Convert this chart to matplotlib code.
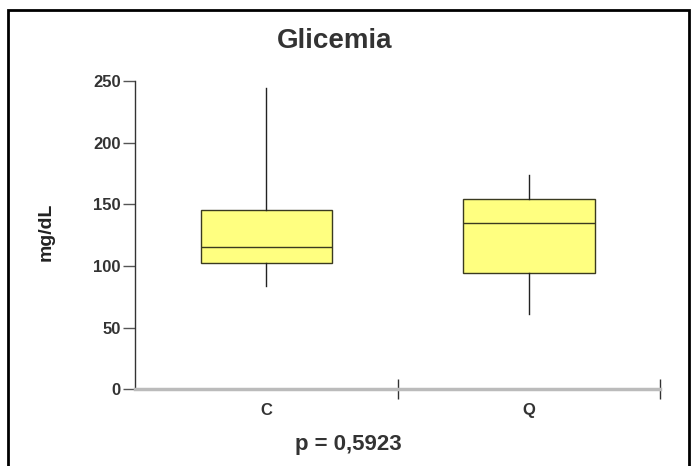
import numpy as np
import matplotlib.pyplot as plt
from matplotlib.patches import Rectangle

plt.rcParams['font.family'] = ['Liberation Sans', 'DejaVu Sans']

# Estatisticas (mg/dL)
grupos = ['C', 'Q']
whislo = [84, 61]
q1 = [102, 94]
mediana = [115, 135]
q3 = [145, 154]
whishi = [244, 174]
p_valor = 'p = 0,5923'

stats = []
for i in range(len(grupos)):
    stats.append({'label': grupos[i], 'whislo': whislo[i], 'q1': q1[i],
                  'med': mediana[i], 'q3': q3[i], 'whishi': whishi[i]})

fig = plt.figure(figsize=(6.95, 4.66), dpi=100)
ax = fig.add_axes([0.194, 0.165, 0.756, 0.661])

pos = np.arange(len(grupos)) + 0.5
ax.bxp(stats, positions=pos, widths=0.5, showcaps=False, showfliers=False,
       patch_artist=True,
       boxprops=dict(facecolor='#ffff80', edgecolor='#3a3a20', linewidth=1.0),
       medianprops=dict(color='#3a3a20', linewidth=1.0),
       whiskerprops=dict(color='#222222', linewidth=1.0),
       manage_ticks=False)

ax.set_xlim(0, 2)
ax.set_ylim(0, 250)
ax.set_yticks([0, 50, 100, 150, 200, 250])
ax.set_yticklabels(['0', '50', '100', '150', '200', '250'],
                   fontweight='bold', fontsize=12, color='#333333')

ax.set_xticks([1, 2])
ax.set_xticklabels(['', ''])
ax.set_xticks(pos, minor=True)
ax.set_xticklabels(grupos, minor=True, fontweight='bold', fontsize=12, color='#333333')
ax.tick_params(axis='x', which='major', direction='inout', length=14, width=1, color='#333333')
ax.tick_params(axis='x', which='minor', length=0, pad=10)
ax.tick_params(axis='y', direction='out', length=9, width=1, color='#555555', pad=1)

for s in ['top', 'right']:
    ax.spines[s].set_visible(False)
ax.spines['left'].set_color('#333333')
ax.spines['left'].set_linewidth(1.0)
ax.spines['bottom'].set_color('#bbbbbb')
ax.spines['bottom'].set_linewidth(2.5)

ax.set_ylabel('mg/dL', fontweight='bold', fontsize=14, color='#222222')
ax.yaxis.set_label_coords(-0.152, 0.51)
fig.text(0.482, 0.897, 'Glicemia', ha='center', va='baseline', fontweight='bold',
         fontsize=20, color='#333333')
fig.text(0.501, 0.034, p_valor, ha='center', va='baseline', fontweight='bold',
         fontsize=16, color='#333333')

# moldura externa
fig.patches.append(Rectangle((0.012, -0.05), 0.98, 1.028, transform=fig.transFigure,
                             fill=False, edgecolor='black', linewidth=2))

fig.savefig('out.png', dpi=100)
